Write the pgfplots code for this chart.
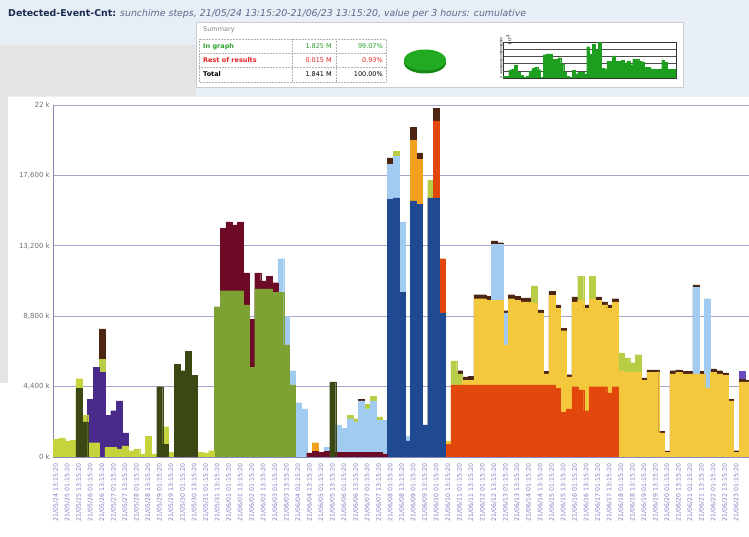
\documentclass[border=0pt]{standalone}
\usepackage{fontspec}
\setmainfont{DejaVu Sans}
\usepackage{pgfplots}
\pgfplotsset{compat=1.18}
\definecolor{hdr}{HTML}{E8EEF6}
\definecolor{grayp}{HTML}{E4E4E4}
\definecolor{axc}{HTML}{8A8AB8}
\definecolor{gridc}{HTML}{A4A4CC}
\definecolor{xlab}{HTML}{8080C4}
\definecolor{ylab}{HTML}{707070}
\definecolor{cA}{HTML}{3C4813}
\definecolor{cB}{HTML}{C5D33C}
\definecolor{cC}{HTML}{4A2B8B}
\definecolor{cD}{HTML}{7DA233}
\definecolor{cE}{HTML}{6D0B26}
\definecolor{cF}{HTML}{1F4A92}
\definecolor{cG}{HTML}{E2470E}
\definecolor{cH}{HTML}{F3C83D}
\definecolor{cI}{HTML}{A2CBF2}
\definecolor{cJ}{HTML}{F2A11F}
\definecolor{cL}{HTML}{B9CC45}
\definecolor{cK}{HTML}{4C2612}
\definecolor{cM}{HTML}{6A4CC0}
\definecolor{mgreen}{HTML}{1E9E1E}
\definecolor{pieg}{HTML}{22AA22}
\definecolor{pied}{HTML}{148A14}
\definecolor{ingr}{HTML}{2AA02A}
\definecolor{rest}{HTML}{E02020}
\begin{document}
\begin{tikzpicture}
\path[use as bounding box] (0pt,0pt) rectangle (749pt,537pt);
\fill[white] (0pt,0pt) rectangle (749pt,537pt);
\fill[hdr] (0pt,440pt) rectangle (749pt,537pt);
\fill[grayp] (0pt,441pt) rectangle (196pt,492pt);
\fill[grayp] (0pt,154pt) rectangle (8pt,441pt);
\node[anchor=base west, inner sep=0pt, font=\fontsize{9.4}{10}\selectfont] at (8pt,520pt)
  {\textcolor[HTML]{1A2A50}{\textbf{Detected-Event-Cnt:}} \textcolor[HTML]{5A6A8A}{\textit{sunchime steps, 21/05/24 13:15:20-21/06/23 13:15:20, value per 3 hours: cumulative}}};
% summary box
\fill[white] (196pt,450pt) rectangle (683pt,515pt);
\draw[color=gray!40, line width=0.5pt] (196pt,450pt) rectangle (683pt,515pt);
\node[anchor=base west, inner sep=0pt, font=\fontsize{6.5}{8}\selectfont, text=gray] at (203pt,505pt) {Summary};
\draw[color=gray!60, densely dotted, line width=0.5pt] (199pt,455pt) rectangle (386pt,498pt);
\draw[color=gray!60, densely dotted, line width=0.5pt] (292pt,455pt) -- (292pt,498pt) (336pt,455pt) -- (336pt,498pt) (199pt,484pt) -- (386pt,484pt) (199pt,470pt) -- (386pt,470pt);
\begin{scope}[font=\fontsize{6.5}{8}\selectfont, inner sep=0pt]
\node[anchor=base west, text=ingr] at (203pt,488pt) {\textbf{In graph}};
\node[anchor=base east, text=ingr] at (332pt,488pt) {1.825 M};
\node[anchor=base east, text=ingr] at (383pt,488pt) {99.07\%};
\node[anchor=base west, text=rest] at (203pt,474pt) {\textbf{Rest of results}};
\node[anchor=base east, text=rest] at (332pt,474pt) {0.015 M};
\node[anchor=base east, text=rest] at (383pt,474pt) {0.93\%};
\node[anchor=base west, text=black] at (203pt,460pt) {\textbf{Total}};
\node[anchor=base east, text=black] at (332pt,460pt) {1.841 M};
\node[anchor=base east, text=black] at (383pt,460pt) {100.00\%};
\end{scope}
\fill[pied] (425pt,474pt) ellipse (21pt and 10.5pt);
\fill[pieg] (425pt,477pt) ellipse (21pt and 10.5pt);
% mini chart
\begin{axis}[at={(503pt,459pt)}, anchor=south west, scale only axis, width=173pt, height=36pt,
  xmin=-0.5, xmax=59.5, ymin=0, ymax=22000,
  ytick={0,4400,8800,13200,17600,22000},
  yticklabels={0,4400,8800,13200,17600,22000},
  y tick label style={rotate=90, anchor=south, font=\fontsize{3}{3}\selectfont, inner sep=0.5pt},
  xtick=\empty, tick style={draw=none},
  ymajorgrids, grid style={draw=black!70, line width=0.3pt},
  axis line style={draw=black!80, line width=0.4pt},
  ybar, bar width=1.02, bar shift=0pt]
\addplot[fill=mgreen, draw=mgreen, line width=0.1pt] coordinates {(0,1200) (1,1050) (2,4900) (3,5600) (4,8000) (5,3500) (6,1500) (7,500) (8,1300) (9,4400) (10,5800) (11,6600) (12,5100) (13,400) (14,14300) (15,14700) (16,14700) (17,11500) (18,11300) (19,12400) (20,8800) (21,3400) (22,900) (23,600) (24,4700) (25,2600) (26,3600) (27,3800) (28,2500) (29,19100) (30,14700) (31,20600) (32,17300) (33,21800) (34,6000) (35,5500) (36,10300) (37,10300) (38,13500) (39,10200) (40,10200) (41,10700) (42,9400) (43,10500) (44,8200) (45,11300) (46,11300) (47,10100) (48,10000) (49,6500) (50,6400) (51,5500) (52,5500) (53,5450) (54,5500) (55,10750) (56,9900) (57,5550) (58,5300) (59,5400)};
\end{axis}
% main chart
\begin{axis}[at={(53pt,80pt)}, anchor=south west, scale only axis, width=696pt, height=352pt,
  xmin=-0.5, xmax=120.2, ymin=0, ymax=22000,
  axis x line*=bottom, axis y line*=left,
  axis line style={draw=axc, line width=0.8pt, -},
  ytick={0,4400,8800,13200,17600,22000},
  yticklabels={0 k,{4,400 k},{8,800 k},{13,200 k},{17,600 k},22 k},
  ymajorgrids, grid style={draw=gridc, line width=0.8pt},
  xtick={0,2,...,118},
  xticklabels={21/05/24 13:15:20,21/05/25 01:15:20,21/05/25 13:15:20,21/05/26 01:15:20,21/05/26 13:15:20,21/05/27 01:15:20,21/05/27 13:15:20,21/05/28 01:15:20,21/05/28 13:15:20,21/05/29 01:15:20,21/05/29 13:15:20,21/05/30 01:15:20,21/05/30 13:15:20,21/05/31 01:15:20,21/05/31 13:15:20,21/06/01 01:15:20,21/06/01 13:15:20,21/06/02 01:15:20,21/06/02 13:15:20,21/06/03 01:15:20,21/06/03 13:15:20,21/06/04 01:15:20,21/06/04 13:15:20,21/06/05 01:15:20,21/06/05 13:15:20,21/06/06 01:15:20,21/06/06 13:15:20,21/06/07 01:15:20,21/06/07 13:15:20,21/06/08 01:15:20,21/06/08 13:15:20,21/06/09 01:15:20,21/06/09 13:15:20,21/06/10 01:15:20,21/06/10 13:15:20,21/06/11 01:15:20,21/06/11 13:15:20,21/06/12 01:15:20,21/06/12 13:15:20,21/06/13 01:15:20,21/06/13 13:15:20,21/06/14 01:15:20,21/06/14 13:15:20,21/06/15 01:15:20,21/06/15 13:15:20,21/06/16 01:15:20,21/06/16 13:15:20,21/06/17 01:15:20,21/06/17 13:15:20,21/06/18 01:15:20,21/06/18 13:15:20,21/06/19 01:15:20,21/06/19 13:15:20,21/06/20 01:15:20,21/06/20 13:15:20,21/06/21 01:15:20,21/06/21 13:15:20,21/06/22 01:15:20,21/06/22 13:15:20,21/06/23 01:15:20},
  tick style={draw=none},
  x tick label style={rotate=90, anchor=east, font=\fontsize{6.2}{7}\selectfont, text=xlab, inner sep=2.5pt},
  y tick label style={font=\fontsize{7}{8}\selectfont, text=ylab, inner sep=3pt},
  ybar, bar width=1.03, bar shift=0pt,
  scaled y ticks=false]
\addplot[fill=cM, draw=cM, line width=0.1pt] coordinates {(119,5400)};
\addplot[fill=cK, draw=cK, line width=0.1pt] coordinates {(8,8000) (53,3600) (58,18700) (62,20600) (63,19000) (66,21800) (70,5400) (71,5000) (72,5050) (73,10150) (74,10150) (75,10050) (76,13500) (77,13400) (78,9150) (79,10150) (80,10050) (81,9950) (82,9950) (84,9200) (85,5350) (86,10350) (87,9500) (88,8050) (89,5150) (90,10000) (92,9500) (94,10000) (95,9700) (96,9500) (97,9900) (102,4950) (103,5450) (104,5450) (105,1600) (106,380) (107,5400) (108,5450) (109,5350) (110,5350) (111,10750) (112,5350) (114,5500) (115,5400) (116,5250) (117,3600) (118,400) (119,4850) (120,4800)};
\addplot[fill=cL, draw=cL, line width=0.1pt] coordinates {(8,6100) (51,2600) (52,2400) (54,3300) (55,3800) (56,2500) (59,19100) (65,17300) (69,6000) (70,5200) (83,10700) (91,11300) (93,11300) (98,6500) (99,6200) (100,5900) (101,6400)};
\addplot[fill=cJ, draw=cJ, line width=0.1pt] coordinates {(45,900) (62,19800) (63,18600)};
\addplot[fill=cI, draw=cI, line width=0.1pt] coordinates {(39,12400) (40,8800) (41,5400) (42,3400) (43,3000) (47,600) (49,2000) (50,1800) (51,2400) (52,2200) (53,3500) (54,3000) (55,3500) (56,2300) (57,2300) (58,18300) (59,18800) (60,14700) (61,1300) (76,13300) (77,13300) (78,9000) (111,10600) (113,9900)};
\addplot[fill=cH, draw=cH, line width=0.1pt] coordinates {(68,1000) (71,4800) (72,4800) (73,9900) (74,9900) (75,9800) (76,9800) (77,9800) (78,7000) (79,9900) (80,9800) (81,9700) (82,9700) (83,9600) (84,9000) (85,5200) (86,10100) (87,9300) (88,7900) (89,5000) (90,9700) (91,9800) (92,9300) (93,9900) (94,9800) (95,9500) (96,9300) (97,9700) (98,5400) (99,5300) (100,5300) (101,5300) (102,4800) (103,5300) (104,5300) (105,1500) (106,300) (107,5200) (108,5300) (109,5200) (110,5200) (111,5200) (112,5200) (113,4300) (114,5300) (115,5200) (116,5100) (117,3500) (118,300) (119,4700) (120,4700)};
\addplot[fill=cG, draw=cG, line width=0.1pt] coordinates {(66,21000) (67,12400) (68,800) (69,4500) (70,4500) (71,4500) (72,4500) (73,4500) (74,4500) (75,4500) (76,4500) (77,4500) (78,4500) (79,4500) (80,4500) (81,4500) (82,4500) (83,4500) (84,4500) (85,4500) (86,4500) (87,4300) (88,2800) (89,3000) (90,4400) (91,4200) (92,2900) (93,4400) (94,4400) (95,4400) (96,4000) (97,4400)};
\addplot[fill=cF, draw=cF, line width=0.1pt] coordinates {(58,16100) (59,16200) (60,10300) (61,1000) (62,16000) (63,15800) (64,2000) (65,16200) (66,16200) (67,9000)};
\addplot[fill=cE, draw=cE, line width=0.1pt] coordinates {(29,14300) (30,14700) (31,14500) (32,14700) (33,11500) (34,8600) (35,11500) (36,11000) (37,11300) (38,10900) (44,250) (45,350) (46,300) (47,350) (49,300) (50,300) (51,300) (52,300) (53,300) (54,300) (55,300) (56,300) (57,200)};
\addplot[fill=cD, draw=cD, line width=0.1pt] coordinates {(28,9400) (29,10400) (30,10400) (31,10400) (32,10400) (33,9500) (34,5600) (35,10500) (36,10500) (37,10500) (38,10300) (39,10300) (40,7000) (41,4500)};
\addplot[fill=cC, draw=cC, line width=0.1pt] coordinates {(6,3600) (7,5600) (8,5300) (9,2600) (10,2900) (11,3500) (12,1500)};
\addplot[fill=cB, draw=cB, line width=0.1pt] coordinates {(0,1100) (1,1200) (2,1000) (3,1050) (4,4900) (5,2600) (6,900) (7,900) (9,600) (10,600) (11,500) (12,700) (13,400) (14,500) (15,200) (16,1300) (17,200) (19,1900) (20,300) (25,300) (26,250) (27,400)};
\addplot[fill=cA, draw=cA, line width=0.1pt] coordinates {(4,4300) (5,2200) (18,4400) (19,800) (21,5800) (22,5400) (23,6600) (24,5100) (48,4700)};
\end{axis}
\end{tikzpicture}
\end{document}
